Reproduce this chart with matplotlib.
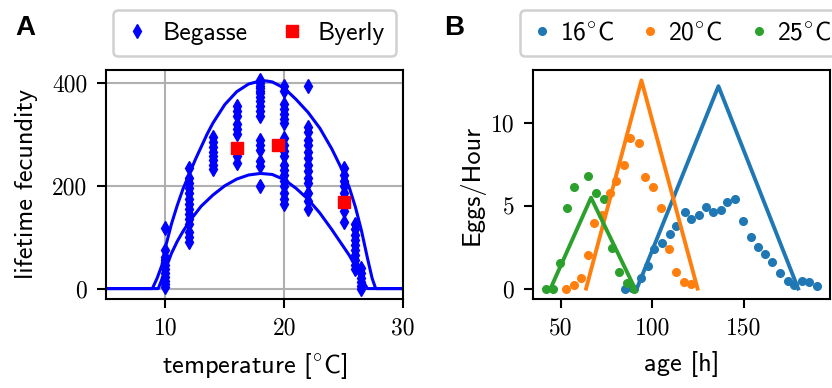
"""Temperature dependence of fecundity (A) and egg laying rate over age (B)."""

import matplotlib

matplotlib.use("Agg")
import matplotlib.pyplot as plt

plt.rcParams["font.family"] = "cmss10"
plt.rcParams["mathtext.fontset"] = "custom"
plt.rcParams["mathtext.rm"] = "cmss10"
plt.rcParams["mathtext.sf"] = "cmss10"
plt.rcParams["mathtext.it"] = "cmss10"
plt.rcParams["mathtext.fallback"] = "cm"
plt.rcParams["axes.unicode_minus"] = False

# --- panel A: lifetime fecundity vs temperature ---
begasse_temp = (
    [10] * 11 + [12] * 14 + [14] * 8 + [16] * 9 + [18] * 17
    + [20] * 19 + [22] * 14 + [25] * 7 + [26] * 10 + [26.5] * 6
)
begasse_fec = [
    117, 75, 62, 55, 45, 38, 30, 22, 15, 8, 3,
    235, 215, 205, 195, 185, 175, 165, 155, 145, 135, 125, 110, 100, 90,
    295, 285, 275, 265, 258, 250, 240, 232,
    355, 345, 335, 320, 310, 300, 270, 258, 245,
    405, 400, 395, 390, 385, 380, 372, 365, 355, 345, 335, 290, 280, 270, 248, 238, 200,
    395, 385, 360, 350, 340, 330, 322, 292, 280, 268, 258, 240, 230, 220, 210, 200, 185, 175, 165,
    395, 315, 305, 290, 280, 265, 255, 240, 228, 215, 205, 185, 170, 155,
    235, 220, 210, 200, 185, 150, 130,
    125, 115, 105, 95, 85, 75, 65, 55, 45, 38,
    40, 30, 20, 12, 5, 0,
]
begasse_temp = begasse_temp[:len(begasse_fec)]

byerly_temp = [16, 19.5, 25]
byerly_fec = [274, 280, 169]

upper_temp = [5, 8.9, 9.3, 9.7, 10, 10.5, 11, 11.5, 12, 12.5, 13, 13.5, 14, 15, 16, 17,
              18, 18.5, 19, 20, 21, 22, 23, 24, 25, 25.5, 26, 26.5, 27, 27.4, 27.7, 30]
upper_fec = [0, 0, 20, 45, 80, 125, 162, 195, 222, 250, 275, 300, 322, 358, 383, 398,
             404, 404, 402, 390, 368, 343, 312, 272, 225, 195, 158, 113, 60, 20, 0, 0]

lower_temp = [5, 9.4, 9.7, 10, 10.5, 11, 11.5, 12, 13, 14, 15, 16, 17, 18, 19, 20,
              21, 22, 23, 24, 25, 25.5, 26, 26.5, 27, 30]
lower_fec = [0, 0, 18, 37, 68, 92, 112, 130, 160, 182, 200, 213, 221, 224, 222, 212,
             195, 174, 147, 115, 81, 64, 43, 20, 0, 0]

# --- panel B: eggs per hour vs age ---
age_16 = [84.9, 89.0, 93.5, 97.6, 100.7, 105.2, 109.4, 112.8, 117.6, 121.2, 125.2, 129.1,
          133.0, 137.3, 140.9, 145.1, 149.2, 153.6, 157.4, 161.4, 165.4, 169.7, 173.7,
          177.3, 181.7, 185.5, 189.5]
eggs_16 = [0.0, 0.05, 0.62, 1.39, 2.39, 2.77, 3.30, 3.80, 4.60, 4.18, 4.42, 4.94,
           4.62, 4.72, 5.22, 5.42, 4.08, 3.13, 2.53, 2.07, 1.59, 0.93, 0.48,
           0.22, 0.48, 0.38, 0.18]

age_20 = [52.7, 57.2, 61.2, 64.7, 68.3, 72.6, 76.6, 80.2, 84.4, 88.0, 92.6, 96.2,
          100.3, 104.7, 108.9, 112.8, 117.0, 121.2]
eggs_20 = [0.0, 0.2, 0.62, 2.03, 3.94, 4.44, 5.75, 6.51, 7.45, 9.06, 8.80, 6.75,
           6.14, 4.84, 2.39, 0.99, 0.38, 0.26]

age_25 = [42.2, 45.8, 49.6, 53.6, 57.2, 65.0, 69.4, 73.5, 77.7, 81.7, 86.2, 89.8]
eggs_25 = [0.0, 0.0, 1.57, 4.86, 6.13, 6.81, 5.75, 5.42, 2.47, 1.0, 0.32, 0.0]

fit_age_16 = [91.5, 136.0, 179.5]
fit_eggs_16 = [0.0, 12.2, 0.0]
fit_age_20 = [63.8, 94.0, 124.6]
fit_eggs_20 = [0.0, 12.55, 0.0]
fit_age_25 = [44.4, 66.5, 90.5]
fit_eggs_25 = [0.0, 5.48, 0.0]

temp_labels = [r"$\mathrm{16}^{\circ}\mathrm{C}$",
               r"$\mathrm{20}^{\circ}\mathrm{C}$",
               r"$\mathrm{25}^{\circ}\mathrm{C}$"]

LABEL_SIZE = 19
LEGEND_SIZE = 18.5
TICK_SIZE = 17


def style_axes(ax):
    for spine in ax.spines.values():
        spine.set_linewidth(1.5)
    ax.tick_params(length=6.5, width=1.5, pad=7, labelsize=TICK_SIZE,
                   labelfontfamily="cmr10")


fig = plt.figure(figsize=(8.32, 3.88), dpi=100)
ax_a = fig.add_axes([0.1274, 0.2294, 0.357, 0.5902])
ax_b = fig.add_axes([0.6406, 0.2294, 0.357, 0.5902])

# panel A
ax_a.plot(upper_temp, upper_fec, color="b", lw=2.2, zorder=2)
ax_a.plot(lower_temp, lower_fec, color="b", lw=2.2, zorder=2)
ax_a.plot(begasse_temp, begasse_fec, "d", color="b", ms=7, ls="none",
          label="Begasse", zorder=3)
ax_a.plot(byerly_temp, byerly_fec, "s", color="r", ms=8, ls="none",
          label="Byerly", zorder=4)
ax_a.set_xlim(5, 30)
ax_a.set_xticks([10, 20, 30])
ax_a.set_yticks([0, 200, 400])
ax_a.grid(True, color="#b0b0b0", lw=1.5)
ax_a.set_axisbelow(True)
ax_a.set_xlabel(r"temperature $\mathrm{[}^{\circ}\mathrm{C]}$", fontsize=LABEL_SIZE,
                labelpad=8)
ax_a.set_ylabel("lifetime fecundity", fontsize=LABEL_SIZE, labelpad=10)
style_axes(ax_a)
leg_a = ax_a.legend(loc="lower center", bbox_to_anchor=(0.5, 1.06), ncol=2,
                    borderaxespad=0, fontsize=LEGEND_SIZE, handletextpad=0.5,
                    columnspacing=1.2, framealpha=1, edgecolor="#d0d0d0",
                    handlelength=1.0, borderpad=0.45)
leg_a.get_frame().set_linewidth(1.8)

# panel B
colors = ["C0", "C1", "C2"]
ax_b.plot(age_16, eggs_16, "o", color=colors[0], ms=5.5, label=temp_labels[0])
ax_b.plot(age_20, eggs_20, "o", color=colors[1], ms=5.5, label=temp_labels[1])
ax_b.plot(age_25, eggs_25, "o", color=colors[2], ms=5.5, label=temp_labels[2])
ax_b.plot(fit_age_16, fit_eggs_16, color=colors[0], lw=2.8)
ax_b.plot(fit_age_20, fit_eggs_20, color=colors[1], lw=2.8)
ax_b.plot(fit_age_25, fit_eggs_25, color=colors[2], lw=2.8)
ax_b.set_xticks([50, 100, 150])
ax_b.set_yticks([0, 5, 10])
ax_b.set_xlabel("age [h]", fontsize=LABEL_SIZE, labelpad=8)
ax_b.set_ylabel("Eggs/Hour", fontsize=LABEL_SIZE)
style_axes(ax_b)
leg_b = ax_b.legend(loc="lower center", bbox_to_anchor=(0.5, 1.06), ncol=3,
                    borderaxespad=0, fontsize=LEGEND_SIZE, handletextpad=0.3,
                    columnspacing=1.0, framealpha=1, edgecolor="#d0d0d0",
                    handlelength=0.8, borderpad=0.45)
leg_b.get_frame().set_linewidth(1.8)

fig.text(0.031, 0.928, "A", fontsize=20, fontweight="bold",
         family="Liberation Sans", ha="center", va="center")
fig.text(0.546, 0.928, "B", fontsize=20, fontweight="bold",
         family="Liberation Sans", ha="center", va="center")

fig.savefig("out.png", dpi=100)
